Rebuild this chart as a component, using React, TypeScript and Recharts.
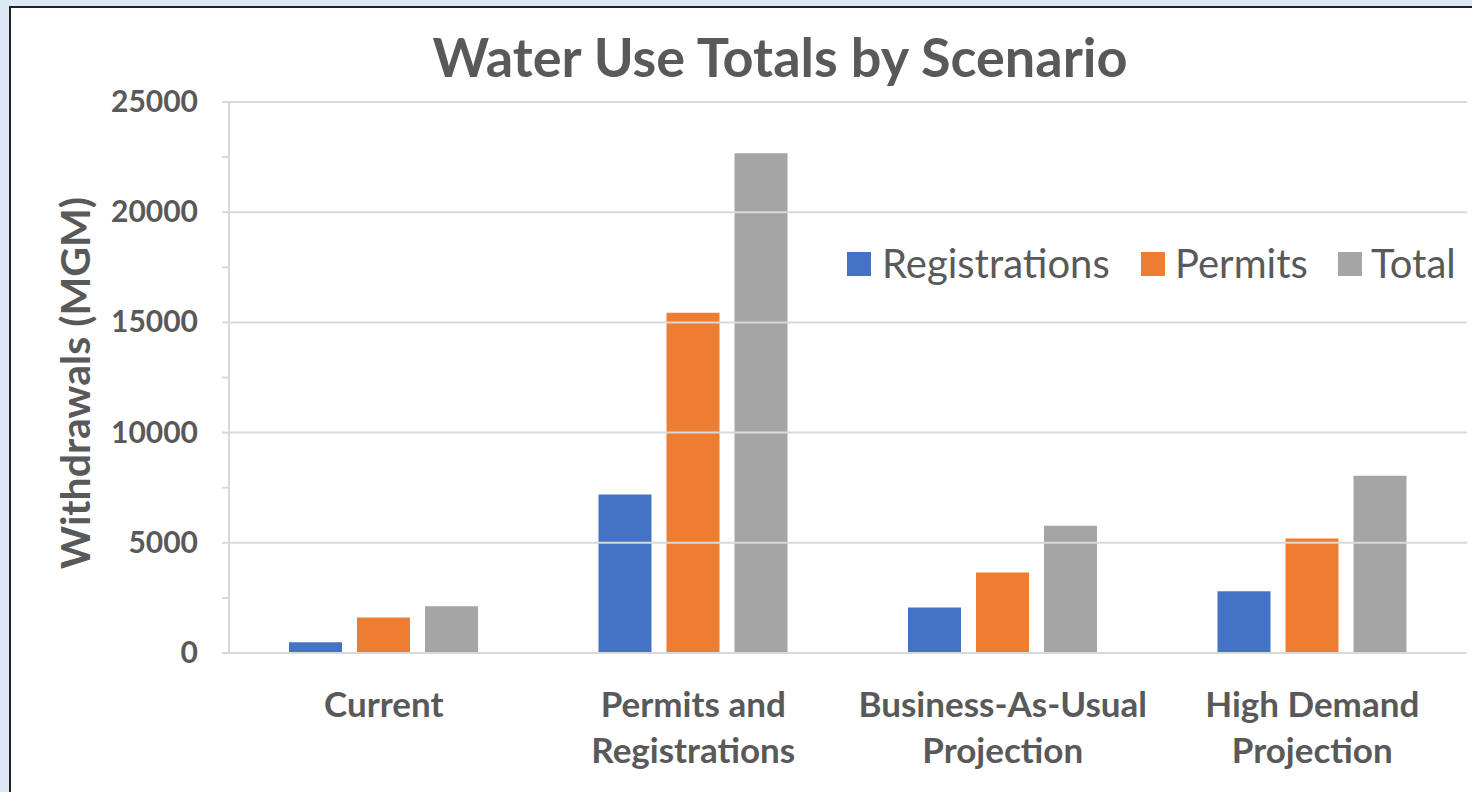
import { BarChart, Bar, XAxis, YAxis, ReferenceLine } from 'recharts';

const categories = ['Current', 'Permits and\nRegistrations', 'Business-As-Usual\nProjection', 'High Demand\nProjection'];
const registrations = [490, 7190, 2060, 2800];
const permits = [1610, 15440, 3650, 5195];
const totals = [2120, 22680, 5770, 8040];
const yTicks = [0, 2500, 5000, 7500, 10000, 12500, 15000, 17500, 20000, 22500, 25000];
const gridValues = [5000, 10000, 15000, 20000, 25000];

const seriesList = [
  { key: 'registrations', name: 'Registrations', color: '#4472c4' },
  { key: 'permits', name: 'Permits', color: '#ed7d31' },
  { key: 'total', name: 'Total', color: '#a5a5a5' },
];

const data = categories.map((name, i) => ({
  name,
  registrations: registrations[i],
  permits: permits[i],
  total: totals[i],
}));

const FONT = 'Lato, "Open Sans", sans-serif';
const TEXT = '#595959';
const GRID = '#d9d9d9';

const YTick = (props: any) => {
  const { x, y, payload } = props;
  if (payload.value % 5000 !== 0) return null;
  return (
    <text x={x - 22} y={y} dy={10} textAnchor="end" fill={TEXT} fontFamily={FONT} fontWeight={700} fontSize={30}>
      {payload.value}
    </text>
  );
};

const XTick = (props: any) => {
  const { x, y, payload } = props;
  const lines = String(payload.value).split('\n');
  return (
    <g>
      {lines.map((l, i) => (
        <text key={i} x={x} y={y + 56 + i * 46} textAnchor="middle" fill={TEXT} fontFamily={FONT} fontWeight={700} fontSize={35}>
          {l}
        </text>
      ))}
    </g>
  );
};

function Legend() {
  const items = [
    { ...seriesList[0], sq: 847, tx: 882 },
    { ...seriesList[1], sq: 1141, tx: 1175 },
    { ...seriesList[2], sq: 1338, tx: 1371 },
  ];
  return (
    <>
      {items.map((it) => (
        <div key={it.key}>
          <div style={{ position: 'absolute', left: it.sq, top: 252, width: 24, height: 24, background: it.color }} />
          <div style={{ position: 'absolute', left: it.tx, top: 237, fontFamily: FONT, fontSize: 40, color: TEXT, lineHeight: '52px', whiteSpace: 'nowrap' }}>
            {it.name}
          </div>
        </div>
      ))}
    </>
  );
}

export default function App() {
  return (
    <div style={{ position: 'fixed', left: 0, top: 0, width: 1472, height: 792, background: '#dde8f4', overflow: 'hidden' }}>
      <div style={{ position: 'absolute', left: 9, top: 6, width: 1500, height: 820, background: '#fff', borderLeft: '2px solid #222', borderTop: '2px solid #222', boxShadow: '0 1px 0 #bbb' }} />
      <div style={{ position: 'absolute', left: 0, top: 0 }}>
        <BarChart
          width={1472}
          height={792}
          data={data}
          margin={{ top: 102, right: 5, bottom: 0, left: 0 }}
          barSize={53}
          barGap={15}
        >
          <XAxis dataKey="name" height={139} interval={0} axisLine={{ stroke: GRID, strokeWidth: 2 }} tickLine={false} tick={<XTick />} />
          <YAxis
            width={229}
            domain={[0, 25000]}
            ticks={yTicks}
            interval={0}
            tickSize={7}
            axisLine={{ stroke: GRID, strokeWidth: 2 }}
            tickLine={{ stroke: GRID, strokeWidth: 2 }}
            tick={<YTick />}
          />
          {gridValues.map((v) => (
            <ReferenceLine key={v} y={v} stroke={GRID} strokeWidth={2} />
          ))}
          {seriesList.map((s) => (
            <Bar key={s.key} dataKey={s.key} name={s.name} fill={s.color} isAnimationActive={false} />
          ))}
        </BarChart>
      </div>
      <div style={{ position: 'absolute', left: 0, top: 0, width: 1472, height: 792, pointerEvents: 'none' }}>
        <div style={{ position: 'absolute', left: 0, width: 1560, top: 24, textAlign: 'center', fontFamily: FONT, fontWeight: 700, fontSize: 54, color: TEXT, lineHeight: '66px' }}>
          Water Use Totals by Scenario
        </div>
        <div style={{ position: 'absolute', left: 74, top: 383, transform: 'translate(-50%, -50%) rotate(-90deg)', fontFamily: FONT, fontWeight: 700, fontSize: 41, color: TEXT, whiteSpace: 'nowrap' }}>
          Withdrawals (MGM)
        </div>
        <Legend />
      </div>
    </div>
  );
}
